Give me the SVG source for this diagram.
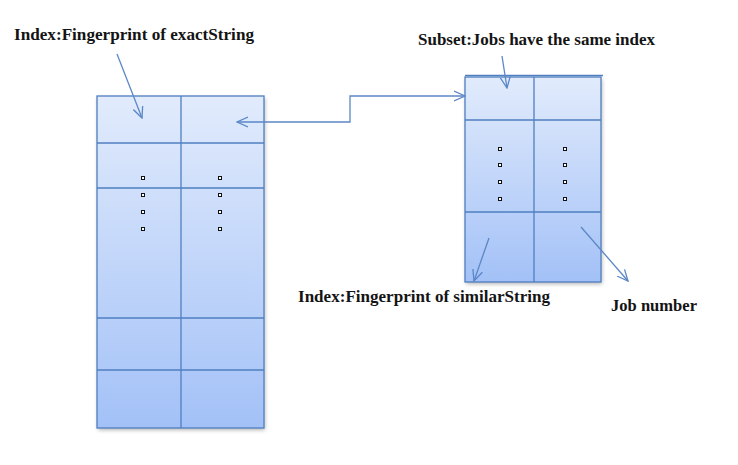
<svg xmlns="http://www.w3.org/2000/svg" width="738" height="465" viewBox="0 0 738 465">
<style>
.lbl{font-family:"Liberation Serif","Times New Roman",serif;font-weight:bold;font-size:16.5px;fill:#141414}
.grid{fill:none;stroke:#4f7fc0;stroke-width:1.3}
.con{fill:none;stroke:#5b87c6;stroke-width:1.3}
.dot{fill:#fff;stroke:#111;stroke-width:1}
</style>
<defs>
<linearGradient id="gL" x1="0" y1="0" x2="0" y2="1">
<stop offset="0" stop-color="#e1ebfc"/>
<stop offset="1" stop-color="#a3c1f7"/>
</linearGradient>
<linearGradient id="gR" x1="0" y1="0" x2="0" y2="1">
<stop offset="0" stop-color="#e1ebfc"/>
<stop offset="1" stop-color="#a3c1f7"/>
</linearGradient>
<marker id="ah" viewBox="0 0 12 12" refX="11" refY="6" markerWidth="12" markerHeight="12" markerUnits="userSpaceOnUse" orient="auto-start-reverse">
<polyline points="0,1 11,6 0,11" fill="none" stroke="#5b87c6" stroke-width="1.3"/>
</marker>
<filter id="sh" x="-10%" y="-10%" width="130%" height="130%">
<feGaussianBlur in="SourceAlpha" stdDeviation="2"/>
<feOffset dx="1" dy="2"/>
<feComponentTransfer><feFuncA type="linear" slope="0.3"/></feComponentTransfer>
<feMerge><feMergeNode/><feMergeNode in="SourceGraphic"/></feMerge>
</filter>
</defs>
<g id="leftTable">
<rect x="97" y="96" width="167" height="332" fill="url(#gL)" filter="url(#sh)"/>
<rect class="grid" x="97" y="96" width="167" height="332"/>
<line class="grid" x1="181" y1="96" x2="181" y2="428"/>
<line class="grid" x1="97" y1="143" x2="264" y2="143"/>
<line class="grid" x1="97" y1="188" x2="264" y2="188"/>
<line class="grid" x1="97" y1="318" x2="264" y2="318"/>
<line class="grid" x1="97" y1="370" x2="264" y2="370"/>
<rect class="dot" x="141.5" y="176.5" width="3" height="3"/>
<rect class="dot" x="141.5" y="193.5" width="3" height="3"/>
<rect class="dot" x="141.5" y="210.5" width="3" height="3"/>
<rect class="dot" x="141.5" y="227.5" width="3" height="3"/>
<rect class="dot" x="218.5" y="176.5" width="3" height="3"/>
<rect class="dot" x="218.5" y="193.5" width="3" height="3"/>
<rect class="dot" x="218.5" y="210.5" width="3" height="3"/>
<rect class="dot" x="218.5" y="227.5" width="3" height="3"/>
</g>
<g id="rightTable">
<rect x="465" y="77" width="136" height="205" fill="url(#gR)" filter="url(#sh)"/>
<rect class="grid" x="465" y="77" width="136" height="205"/>
<line class="grid" x1="465" y1="75.5" x2="603" y2="75.5"/>
<line class="grid" x1="534" y1="77" x2="534" y2="282"/>
<line class="grid" x1="465" y1="120" x2="601" y2="120"/>
<line class="grid" x1="465" y1="212" x2="601" y2="212"/>
<rect class="dot" x="498.5" y="147.5" width="3" height="3"/>
<rect class="dot" x="498.5" y="163.5" width="3" height="3"/>
<rect class="dot" x="498.5" y="180.5" width="3" height="3"/>
<rect class="dot" x="498.5" y="197.5" width="3" height="3"/>
<rect class="dot" x="563.5" y="147.5" width="3" height="3"/>
<rect class="dot" x="563.5" y="163.5" width="3" height="3"/>
<rect class="dot" x="563.5" y="180.5" width="3" height="3"/>
<rect class="dot" x="563.5" y="197.5" width="3" height="3"/>
</g>
<g id="labels">
<text class="lbl" x="14" y="40" textLength="240" lengthAdjust="spacingAndGlyphs">Index:Fingerprint of exactString</text>
<text class="lbl" x="418" y="45" textLength="237" lengthAdjust="spacingAndGlyphs">Subset:Jobs have the same index</text>
<text class="lbl" x="298" y="302" textLength="252" lengthAdjust="spacingAndGlyphs">Index:Fingerprint of similarString</text>
<text class="lbl" x="611" y="311" textLength="86" lengthAdjust="spacingAndGlyphs">Job number</text>
</g>
<g id="connectors">
<polyline class="con" points="237,122 350,122 350,96 465,96" marker-start="url(#ah)" marker-end="url(#ah)"/>
<line class="con" x1="117" y1="54" x2="142" y2="118" marker-end="url(#ah)"/>
<line class="con" x1="502" y1="56" x2="507" y2="88" marker-end="url(#ah)"/>
<line class="con" x1="489" y1="238" x2="474" y2="281" marker-end="url(#ah)"/>
<line class="con" x1="581" y1="227" x2="628" y2="281" marker-end="url(#ah)"/>
</g>
</svg>
